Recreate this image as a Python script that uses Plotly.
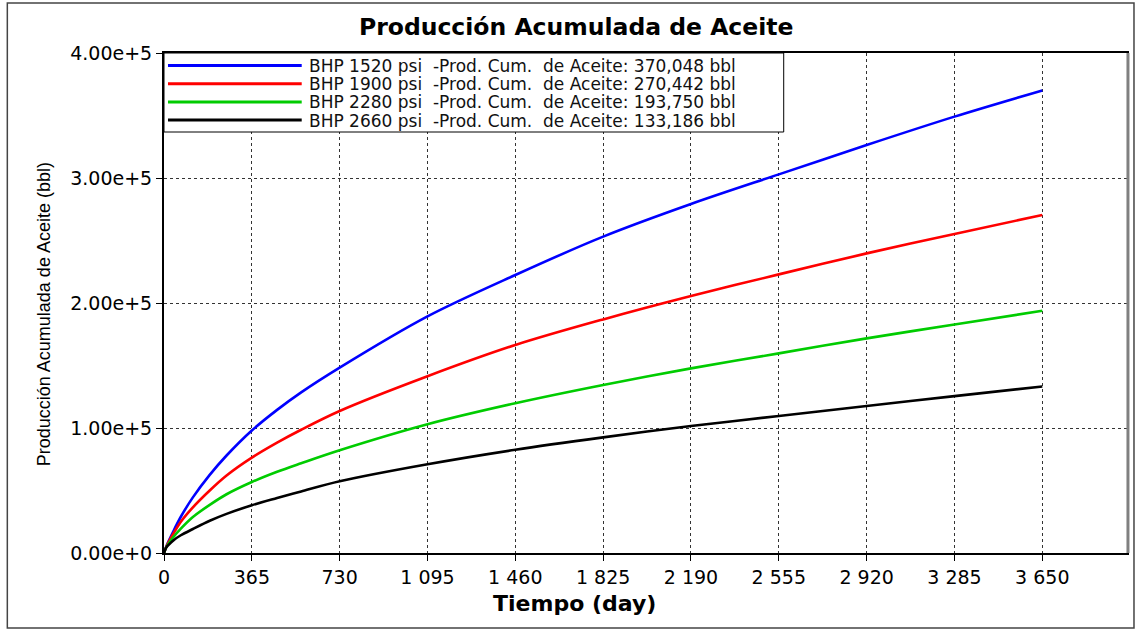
import plotly.graph_objects as go

# ---- data ----
days = [0, 10, 40, 70, 120, 190, 260, 365, 470, 570, 730, 1095, 1460, 1825, 2190, 2555, 2920, 3285, 3650]
bhp_1520 = [0, 5500, 17800, 29000, 44500, 62500, 78000, 98000, 114500, 128500, 148300, 189300, 222400, 253100,
            279200, 302900, 326400, 349100, 370048]
bhp_1900 = [0, 5200, 15800, 25000, 36500, 50000, 62000, 76300, 88300, 98600, 113600, 141400, 166400, 186900,
            205600, 222900, 239700, 255200, 270442]
bhp_2280 = [0, 4800, 13000, 19500, 28800, 38500, 47000, 56800, 65000, 71800, 82200, 103000, 119800, 134400,
            147700, 159700, 171700, 182800, 193750]
bhp_2660 = [0, 4600, 10300, 14200, 19200, 25800, 31300, 38200, 44000, 49300, 57400, 71000, 82600, 92500,
            101600, 109600, 117600, 125500, 133186]

pressures = [1520, 1900, 2280, 2660]
series = [bhp_1520, bhp_1900, bhp_2280, bhp_2660]
colors = ["#0000ff", "#ff0000", "#00cc00", "#000000"]

x_tickvals = [0, 365, 730, 1095, 1460, 1825, 2190, 2555, 2920, 3285, 3650]
x_ticktext = ["0", "365", "730", "1 095", "1 460", "1 825", "2 190", "2 555", "2 920", "3 285", "3 650"]
y_tickvals = [0, 100000, 200000, 300000, 400000]
y_ticktext = ["0.00e+0", "1.00e+5", "2.00e+5", "3.00e+5", "4.00e+5"]

W, H = 1141, 631
ML, MR, MT, MB = 164, 12, 53, 78
PW, PH = W - ML - MR, H - MT - MB


def px(xp):
    return (xp - ML) / PW


def py(yp):
    return 1 - (yp - MT) / PH


fig = go.Figure()
for p, s, c in zip(pressures, series, colors):
    fig.add_trace(go.Scatter(
        x=days, y=s, mode="lines", line=dict(color=c, width=2.6, shape="spline", smoothing=0.9),
        name=f"BHP {p} psi", showlegend=False))

shapes = []
annotations = []
# custom legend box
shapes.append(dict(type="rect", xref="paper", yref="paper", x0=px(164), x1=px(785), y0=py(132), y1=py(53),
                   line=dict(color="#000000", width=1), fillcolor="white", layer="above"))
for i, (p, s, c) in enumerate(zip(pressures, series, colors)):
    yrow = 65.5 + i * 18.2
    shapes.append(dict(type="line", xref="paper", yref="paper", x0=px(168), x1=px(302), y0=py(yrow), y1=py(yrow),
                       line=dict(color=c, width=3), layer="above"))
    label = f"BHP {p} psi&nbsp; -Prod. Cum.&nbsp; de Aceite: {s[-1]:,} bbl"
    annotations.append(dict(xref="paper", yref="paper", x=px(307), y=py(yrow + 0.5), xanchor="left", yanchor="middle",
                            text=label, showarrow=False,
                            font=dict(family="DejaVu Sans", size=17, color="#111111")))

# axis titles as annotations (positioned as in the reference)
annotations.append(dict(xref="paper", yref="paper", x=px(575), y=py(603), xanchor="center", yanchor="middle",
                        text="<b>Tiempo (day)</b>", showarrow=False,
                        font=dict(family="DejaVu Sans", size=22, color="#000000")))
annotations.append(dict(xref="paper", yref="paper", x=px(44), y=py(314), xanchor="center", yanchor="middle",
                        text="Producción Acumulada de Aceite (bbl)", textangle=-90, showarrow=False,
                        font=dict(family="Liberation Sans", size=18, color="#000000")))

# gray right border (shadow)
shapes.append(dict(type="line", xref="paper", yref="paper", x0=1.001, x1=1.001, y0=0, y1=1,
                   line=dict(color="#808080", width=3), layer="above"))
# outer frame
shapes.append(dict(type="rect", xref="paper", yref="paper", x0=px(7), x1=px(1136), y0=py(628), y1=py(3),
                   line=dict(color="#444444", width=1.5)))

fig.update_layout(
    width=W, height=H,
    margin=dict(l=ML, r=MR, t=MT, b=MB),
    paper_bgcolor="white", plot_bgcolor="white",
    title=dict(text="<b>Producción Acumulada de Aceite</b>", x=0.505, xanchor="center", y=1 - 27 / H, yanchor="middle",
               font=dict(family="DejaVu Sans", size=23.5, color="#000000")),
    shapes=shapes, annotations=annotations,
    showlegend=False,
)

fig.update_xaxes(
    range=[0, 4002], tickvals=x_tickvals, ticktext=x_ticktext,
    showgrid=True, gridcolor="#333333", gridwidth=1, griddash="dot",
    showline=True, linecolor="black", linewidth=2, mirror=True,
    ticks="outside", ticklen=6, tickcolor="black", tickwidth=1,
    zeroline=False,
    tickfont=dict(family="DejaVu Sans", size=19, color="#000000"),
)
fig.update_yaxes(
    range=[0, 400000], tickvals=y_tickvals, ticktext=y_ticktext,
    showgrid=True, gridcolor="#333333", gridwidth=1, griddash="dot",
    showline=True, linecolor="black", linewidth=2, mirror=True,
    ticks="outside", ticklen=6, tickcolor="black", tickwidth=1,
    zeroline=False,
    tickfont=dict(family="DejaVu Sans", size=19, color="#000000"),
)

fig.write_html("out.html", config={"displayModeBar": False},
               post_script="document.body.style.margin='0';document.body.style.padding='0';")
